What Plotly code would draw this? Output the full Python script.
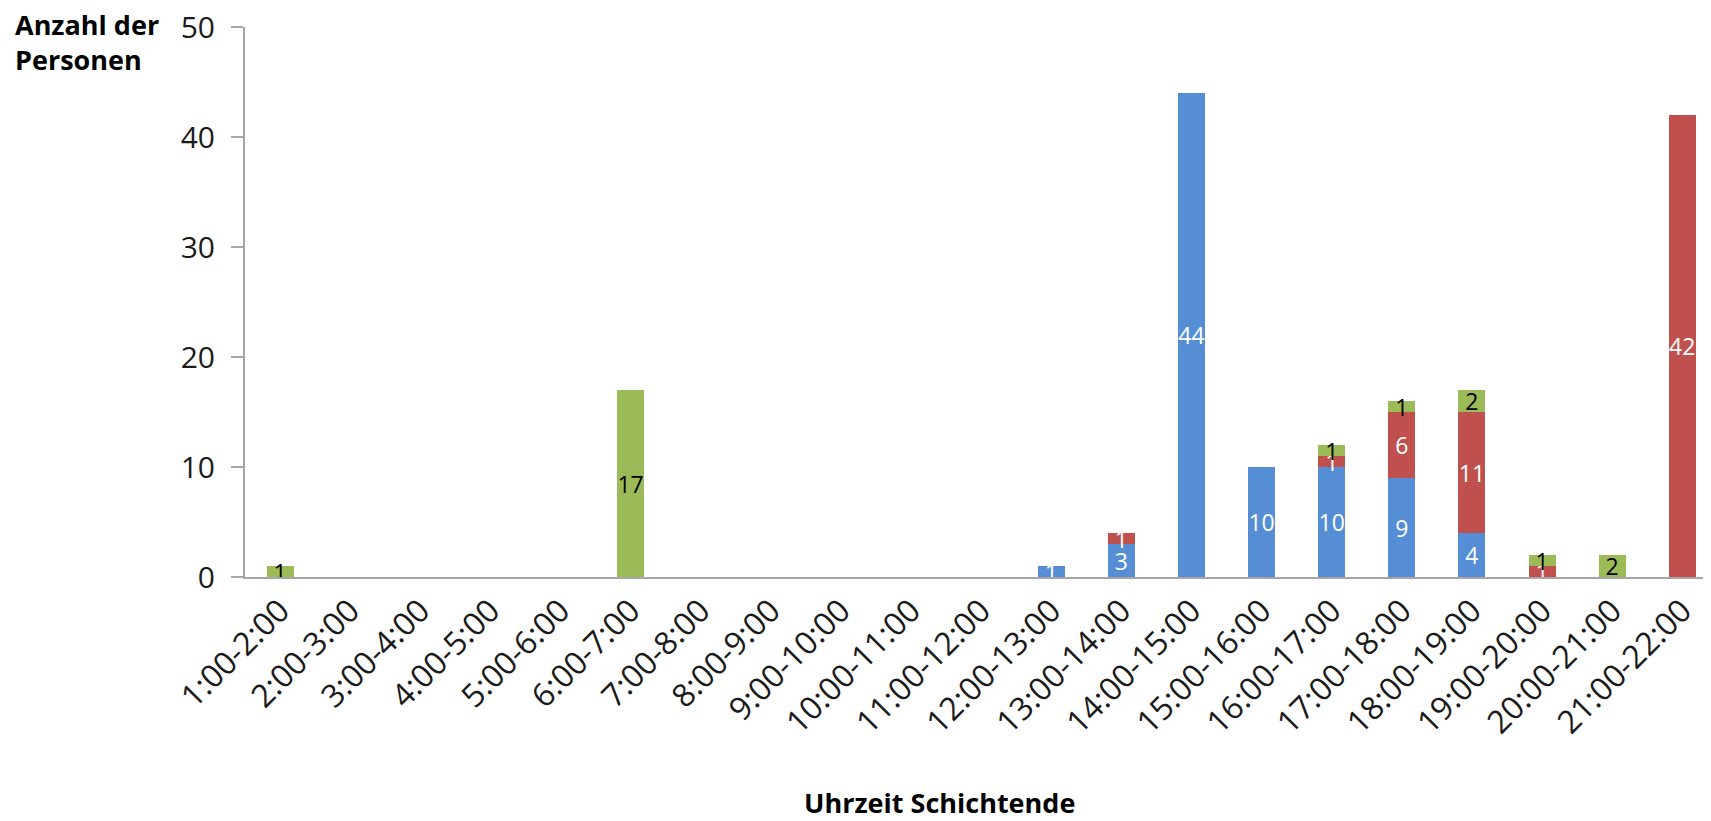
import plotly.graph_objects as go

categories = ["1:00-2:00", "2:00-3:00", "3:00-4:00", "4:00-5:00", "5:00-6:00",
              "6:00-7:00", "7:00-8:00", "8:00-9:00", "9:00-10:00", "10:00-11:00",
              "11:00-12:00", "12:00-13:00", "13:00-14:00", "14:00-15:00", "15:00-16:00",
              "16:00-17:00", "17:00-18:00", "18:00-19:00", "19:00-20:00", "20:00-21:00",
              "21:00-22:00"]

blue_values = [None, None, None, None, None, None, None, None, None, None,
               None, 1, 3, 44, 10, 10, 9, 4, None, None, None]
red_values = [None, None, None, None, None, None, None, None, None, None,
              None, None, 1, None, None, 1, 6, 11, 1, None, 42]
green_values = [1, None, None, None, None, 17, None, None, None, None,
                None, None, None, None, None, 1, 1, 2, 1, 2, None]

y_ticks = [0, 10, 20, 30, 40, 50]

FONT = "Open Sans"
series = [
    ("blau", blue_values, "#558ED5", "white"),
    ("rot", red_values, "#C0504D", "white"),
    ("grün", green_values, "#9BBB59", "black"),
]

# page body has an 8px margin: figure is sized/positioned to compensate
W, H = 1703, 813
ML, MR, MT, MB = 237, 0, 19, 244
PW, PH = W - ML - MR, H - MT - MB

fig = go.Figure()
for name, vals, color, tcolor in series:
    fig.add_trace(go.Bar(
        x=categories, y=vals, name=name,
        marker=dict(color=color, line=dict(width=0)),
        texttemplate="%{y}", textposition="inside", insidetextanchor="middle",
        textangle=0, constraintext="none",
        insidetextfont=dict(family=FONT, size=23, color=tcolor),
        showlegend=False,
    ))

fig.update_layout(
    width=W, height=H,
    barmode="stack", bargap=0.615,
    margin=dict(l=ML, r=MR, t=MT, b=MB),
    plot_bgcolor="white", paper_bgcolor="white",
    font=dict(family=FONT, color="#1a1a1a"),
    uniformtext=dict(minsize=23, mode="show"),
    xaxis=dict(
        type="category", range=[-0.5, 20.41], showline=True, linecolor="#A6A6A6", linewidth=2,
        ticks="", tickangle=-45, showgrid=False, zeroline=False, automargin=False,
        tickfont=dict(family=FONT, size=32, color="#1a1a1a"),
    ),
    yaxis=dict(
        range=[0, 50], tickvals=y_ticks, showline=True, linecolor="#A6A6A6", linewidth=2,
        ticks="outside", ticklen=12, tickwidth=2, tickcolor="#A6A6A6", automargin=False,
        showgrid=False, zeroline=False, ticklabelstandoff=10, ticklabeloverflow="allow",
        tickfont=dict(family=FONT, size=30, color="#1a1a1a"),
    ),
    annotations=[
        dict(text="<b>Anzahl der<br>Personen</b>", xref="paper", yref="paper",
             x=(5 - ML) / PW, y=(PH + MT - 34) / PH, xanchor="left", yanchor="middle",
             align="left", showarrow=False, font=dict(family=FONT, size=27, color="black")),
        dict(text="<b>Uhrzeit Schichtende</b>", xref="paper", yref="paper",
             x=(931 - ML) / PW, y=-(794 - (MT + PH)) / PH, xanchor="center", yanchor="middle",
             showarrow=False, font=dict(family=FONT, size=27, color="black")),
    ],
)

fig.write_html("out.html")
